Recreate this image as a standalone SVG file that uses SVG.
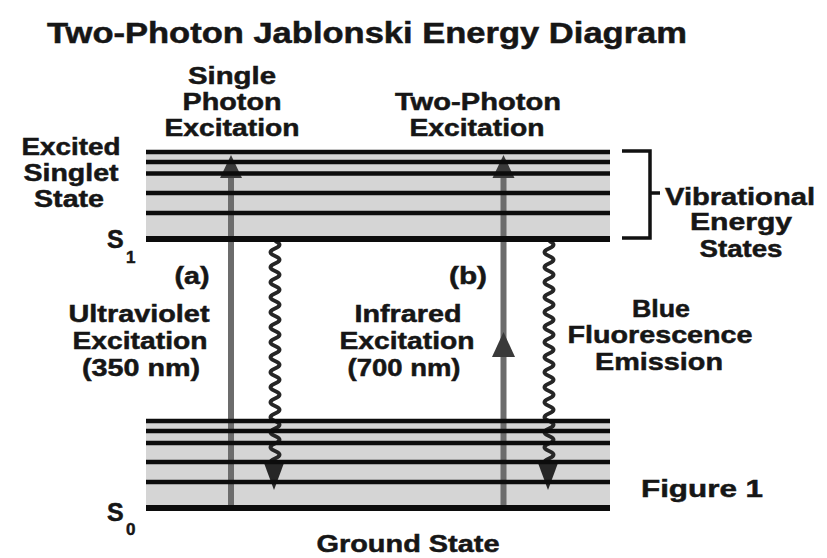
<svg xmlns="http://www.w3.org/2000/svg" width="827" height="558" viewBox="0 0 827 558">
<style>
text{font-family:"Liberation Sans",Arial,sans-serif;font-weight:bold;fill:#161616;stroke:#161616;stroke-width:0.5;text-anchor:middle;font-size:24px}
.ttl{font-size:29px}
.sub{font-size:17px;text-anchor:start}
.sl{font-size:25px;text-anchor:start}
.band{fill:#d5d5d5}
.lv{stroke:#0c0c0c;stroke-width:4.5;fill:none}
.base{stroke:#0c0c0c;stroke-width:6;fill:none}
.shaft{stroke:#6c6c6c;stroke-width:6;fill:none}
.head{fill:#3a3a3a}
.wave{stroke:#262626;stroke-width:4;fill:none;stroke-linejoin:round}
.whead{fill:#262626}
.br{stroke:#111;stroke-width:3.5;fill:none}
</style>
<rect width="827" height="558" fill="#ffffff"/>
<g id="title"><text class="ttl" x="367" y="43" textLength="640" lengthAdjust="spacingAndGlyphs">Two-Photon Jablonski Energy Diagram</text></g>

<g id="excited-state">
<rect class="band" x="146" y="152" width="464" height="87"/>
</g>
<g id="ground-state">
<rect class="band" x="146" y="421" width="464" height="87"/>
</g>

<g id="connectors">
<line class="shaft" x1="231" y1="508" x2="231" y2="165"/>
<polygon class="head" points="231,155 242,178 220,178"/>
<line class="shaft" x1="503.5" y1="508" x2="503.5" y2="165"/>
<polygon class="head" points="503.5,155 514.5,178 492.5,178"/>
<polygon class="head" points="503.5,332 515,357 492,357" fill="#333"/>
<path class="wave" d="M 275 241 q 9 3.75 0 7.5 t 0 7.5 t 0 7.5 t 0 7.5 t 0 7.5 t 0 7.5 t 0 7.5 t 0 7.5 t 0 7.5 t 0 7.5 t 0 7.5 t 0 7.5 t 0 7.5 t 0 7.5 t 0 7.5 t 0 7.5 t 0 7.5 t 0 7.5 t 0 7.5 t 0 7.5 t 0 7.5 t 0 7.5 t 0 7.5 t 0 7.5 t 0 7.5 t 0 7.5 t 0 7.5 t 0 7.5 t 0 7.5 t 0 7.5"/>
<polygon class="whead" points="274,490 284,463 264,463"/>
<path class="wave" d="M 549 241 q 9 3.75 0 7.5 t 0 7.5 t 0 7.5 t 0 7.5 t 0 7.5 t 0 7.5 t 0 7.5 t 0 7.5 t 0 7.5 t 0 7.5 t 0 7.5 t 0 7.5 t 0 7.5 t 0 7.5 t 0 7.5 t 0 7.5 t 0 7.5 t 0 7.5 t 0 7.5 t 0 7.5 t 0 7.5 t 0 7.5 t 0 7.5 t 0 7.5 t 0 7.5 t 0 7.5 t 0 7.5 t 0 7.5 t 0 7.5 t 0 7.5"/>
<polygon class="whead" points="548,490 558,463 538,463"/>
<path class="br" d="M 622 151 H 650 V 238 H 622 M 650 193 H 660"/>
</g>

<g id="excited-lines">
<line class="lv" x1="146" y1="152" x2="610" y2="152"/>
<line class="lv" x1="146" y1="162" x2="610" y2="162"/>
<line class="lv" x1="146" y1="173.5" x2="610" y2="173.5"/>
<line class="lv" x1="146" y1="193" x2="610" y2="193"/>
<line class="lv" x1="146" y1="213" x2="610" y2="213"/>
<line class="base" x1="146" y1="239" x2="610" y2="239"/>
</g>
<g id="ground-lines">
<line class="lv" x1="146" y1="421" x2="610" y2="421"/>
<line class="lv" x1="146" y1="431" x2="610" y2="431"/>
<line class="lv" x1="146" y1="443" x2="610" y2="443"/>
<line class="lv" x1="146" y1="462" x2="610" y2="462"/>
<line class="lv" x1="146" y1="482" x2="610" y2="482"/>
<line class="base" x1="146" y1="508" x2="610" y2="508"/>
</g>

<g id="label-single">
<text x="232" y="84" textLength="88" lengthAdjust="spacingAndGlyphs">Single</text>
<text x="232" y="110" textLength="99" lengthAdjust="spacingAndGlyphs">Photon</text>
<text x="232" y="136" textLength="135" lengthAdjust="spacingAndGlyphs">Excitation</text>
</g>
<g id="label-two">
<text x="478" y="110" textLength="166" lengthAdjust="spacingAndGlyphs">Two-Photon</text>
<text x="477" y="136" textLength="135" lengthAdjust="spacingAndGlyphs">Excitation</text>
</g>
<g id="label-excited">
<text x="71" y="155" textLength="99" lengthAdjust="spacingAndGlyphs">Excited</text>
<text x="71" y="181" textLength="95" lengthAdjust="spacingAndGlyphs">Singlet</text>
<text x="69" y="207" textLength="70" lengthAdjust="spacingAndGlyphs">State</text>
</g>
<g id="label-s1"><text class="sl" x="107" y="248">S</text><text class="sub" x="126" y="263">1</text></g>
<g id="label-a">
<text x="192" y="284" textLength="35" lengthAdjust="spacingAndGlyphs">(a)</text>
<text x="139" y="322" textLength="141" lengthAdjust="spacingAndGlyphs">Ultraviolet</text>
<text x="140" y="349" textLength="135" lengthAdjust="spacingAndGlyphs">Excitation</text>
<text x="141" y="376" textLength="118" lengthAdjust="spacingAndGlyphs">(350 nm)</text>
</g>
<g id="label-b">
<text x="468" y="284" textLength="38" lengthAdjust="spacingAndGlyphs">(b)</text>
<text x="408" y="322" textLength="107" lengthAdjust="spacingAndGlyphs">Infrared</text>
<text x="407" y="349" textLength="135" lengthAdjust="spacingAndGlyphs">Excitation</text>
<text x="404" y="376" textLength="113" lengthAdjust="spacingAndGlyphs">(700 nm)</text>
</g>
<g id="label-blue">
<text x="661" y="317" textLength="58" lengthAdjust="spacingAndGlyphs">Blue</text>
<text x="660" y="343" textLength="185" lengthAdjust="spacingAndGlyphs">Fluorescence</text>
<text x="659" y="370" textLength="128" lengthAdjust="spacingAndGlyphs">Emission</text>
</g>
<g id="label-vibrational">
<text x="740" y="205" textLength="150" lengthAdjust="spacingAndGlyphs">Vibrational</text>
<text x="741" y="230" textLength="102" lengthAdjust="spacingAndGlyphs">Energy</text>
<text x="741" y="257" textLength="83" lengthAdjust="spacingAndGlyphs">States</text>
</g>
<g id="label-figure"><text x="702" y="497" font-size="27" textLength="122" lengthAdjust="spacingAndGlyphs">Figure 1</text></g>
<g id="label-s0"><text class="sl" x="107" y="521">S</text><text class="sub" x="126" y="535">0</text></g>
<g id="label-ground"><text x="408" y="552" textLength="183" lengthAdjust="spacingAndGlyphs">Ground State</text></g>
</svg>
